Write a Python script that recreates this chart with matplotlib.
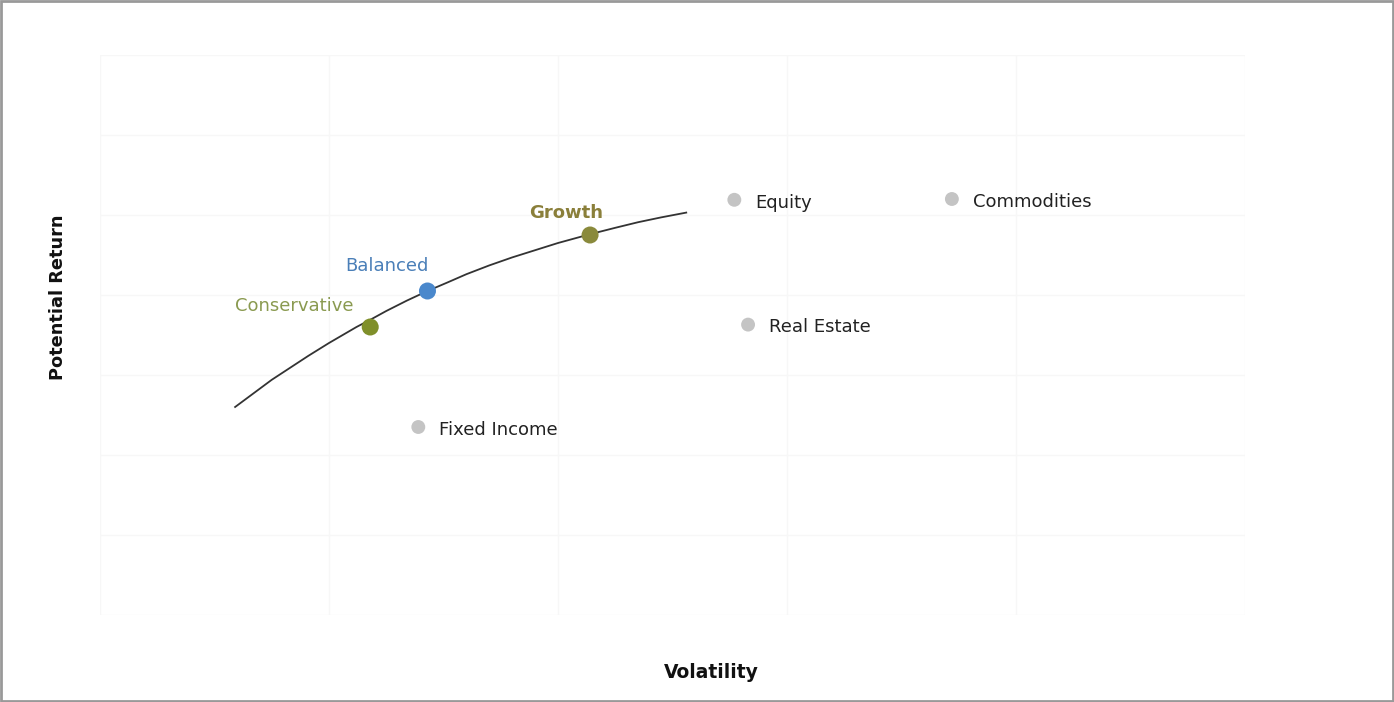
import matplotlib.pyplot as plt
from matplotlib.patches import Rectangle

# portfolios on the frontier
port_names = ["Conservative", "Balanced", "Growth"]
port_x = [1.18, 1.43, 2.14]
port_y = [3.60, 4.05, 4.75]
port_colors = ["#7f8f2a", "#4a88cc", "#8a8a3c"]
label_colors = ["#8a9a50", "#4a7fb8", "#8a7f3a"]

# asset classes
asset_names = ["Equity", "Commodities", "Real Estate", "Fixed Income"]
asset_x = [2.77, 3.72, 2.83, 1.39]
asset_y = [5.19, 5.20, 3.63, 2.35]

# efficient frontier curve
curve_x = [0.59, 0.67, 0.75, 0.83, 0.91, 1.00, 1.06, 1.12, 1.18, 1.25, 1.34, 1.43, 1.52,
           1.60, 1.70, 1.80, 1.90, 2.00, 2.14, 2.25, 2.35, 2.45, 2.56]
curve_y = [2.60, 2.77, 2.94, 3.09, 3.24, 3.40, 3.50, 3.60, 3.69, 3.80, 3.93, 4.05, 4.16,
           4.26, 4.37, 4.47, 4.56, 4.65, 4.76, 4.84, 4.91, 4.97, 5.03]

fig = plt.figure(figsize=(13.94, 7.02), dpi=100)
ax = fig.add_axes([100/1394, 87/702, 1145/1394, 560/702])

ax.set_xlim(0, 5)
ax.set_ylim(0, 7)
ax.set_xticks(range(0, 6))
ax.set_yticks(range(0, 8))
ax.grid(True, color="#f7f7f7", lw=1)
ax.tick_params(length=0, labelbottom=False, labelleft=False)
for s in ax.spines.values():
    s.set_visible(False)

ax.plot(curve_x, curve_y, color="#333333", lw=1.3, zorder=2)

ax.scatter(asset_x, asset_y, s=100, color="#c4c4c4", zorder=3, edgecolors="none")
for n, x, y in zip(asset_names, asset_x, asset_y):
    ax.annotate(n, (x, y), xytext=(15, -2), textcoords="offset points",
                ha="left", va="center", fontsize=13, color="#222222")

ax.scatter(port_x, port_y, s=150, color=port_colors, zorder=4, edgecolors="none")
offsets = [(-12, 15), (-29, 18), (-17, 16)]
aligns = ["right", "center", "center"]
for i, n in enumerate(port_names):
    ax.annotate(n, (port_x[i], port_y[i]), xytext=offsets[i], textcoords="offset points",
                ha=aligns[i], va="center", fontsize=13, color=label_colors[i],
                fontweight="bold" if n == "Growth" else "normal")

fig.text(711/1394, 1 - 673/702, "Volatility", ha="center", va="center",
         fontsize=13.5, fontweight="bold", color="#111111")
fig.text(58/1394, 1 - 297/702, "Potential Return", ha="center", va="center",
         rotation=90, fontsize=12.8, fontweight="bold", color="#111111")

fig.patches.append(Rectangle((0.001, 0.002), 0.998, 0.996, transform=fig.transFigure,
                             fill=False, ec="#999999", lw=2))

fig.savefig("out.png", dpi=100)
